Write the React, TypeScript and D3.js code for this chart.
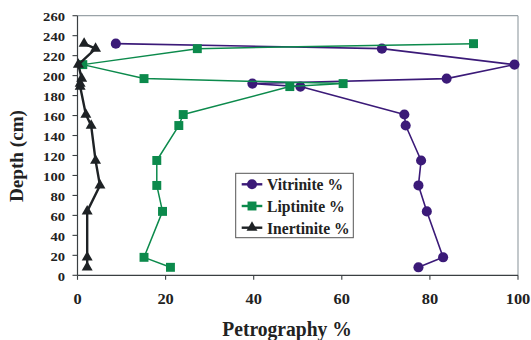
import React from "react";
import * as d3 from "d3";

const depth = [8, 18, 64, 90, 115, 150, 161, 189, 192, 197, 211, 227, 232];
const vitrinite = [77.4, 83, 79.3, 77.4, 78, 74.5, 74.2, 50.6, 39.7, 83.8, 99.2, 69.1, 8.7];
const liptinite = [21.1, 15.1, 19.3, 18.0, 18.0, 23.0, 24.0, 48.2, 60.3, 15.1, 1.2, 27.2, 89.9];
const inertinite = [2.2, 2.2, 2.2, 5.1, 4.1, 3.1, 1.9, 0.6, 0.6, 0.95, 0.2, 4.1, 1.5];
const seriesNames = ["Vitrinite %", "Liptinite %", "Inertinite %"];
const xTicks = [0, 20, 40, 60, 80, 100];
const yTicks = [0, 20, 40, 60, 80, 100, 120, 140, 160, 180, 200, 220, 240, 260];
const xTitle = "Petrography %";
const yTitle = "Depth (cm)";

const W = 531, H = 340;
const x = d3.scaleLinear().domain([0, 100]).range([77.5, 518]);
const y = d3.scaleLinear().domain([0, 260]).range([275.3, 15.7]);

const styles = [
  { color: "#3b1a78", width: 1.6, symbol: d3.symbolCircle, size: 80 },
  { color: "#0c8a4c", width: 1.5, symbol: d3.symbolSquare, size: 80 },
  { color: "#1e2225", width: 2.4, symbol: d3.symbolTriangle, size: 52 },
];
const legendWidths = [76, 77.7, 82.7];

export default function App() {
  const series = [vitrinite, liptinite, inertinite];
  const line = d3.line<[number, number]>().x((d) => x(d[0])).y((d) => y(d[1]));
  const font = "'Liberation Serif', 'Times New Roman', serif";
  return (
    <svg width={W} height={H} style={{ position: "absolute", left: 0, top: 0, background: "#fff" }} fontFamily={font}>
      {/* frame */}
      <line x1={x(0)} x2={x(100)} y1={y(260)} y2={y(260)} stroke="#9aa3a8" strokeWidth={1.2} />
      <line x1={x(100)} x2={x(100)} y1={y(260)} y2={y(0)} stroke="#9aa3a8" strokeWidth={1.2} />
      <line x1={x(0)} x2={x(0)} y1={y(260)} y2={y(0)} stroke="#3a3f42" strokeWidth={1.2} />
      <line x1={x(0)} x2={x(100)} y1={y(0)} y2={y(0)} stroke="#3a3f42" strokeWidth={1.2} />
      {yTicks.map((t) => (
        <g key={"y" + t}>
          <line x1={x(0) - 5} x2={x(0)} y1={y(t)} y2={y(t)} stroke="#3a3f42" strokeWidth={1.1} />
          <text x={65} y={y(t) + 5.6} textAnchor="end" fontSize={13} fontWeight="bold" fill="#222"
            textLength={String(t).length * 7.3} lengthAdjust="spacingAndGlyphs">{t}</text>
        </g>
      ))}
      {xTicks.map((t) => (
        <g key={"x" + t}>
          <line x1={x(t)} x2={x(t)} y1={y(0)} y2={y(0) + 4.5} stroke="#3a3f42" strokeWidth={1.1} />
          <text x={x(t)} y={303.5} textAnchor="middle" fontSize={14} fontWeight="bold" fill="#222"
            textLength={String(t).length * 8.2} lengthAdjust="spacingAndGlyphs">{t}</text>
        </g>
      ))}
      <text x={287} y={335.5} textAnchor="middle" fontSize={20} fontWeight="bold" fill="#222"
        textLength={129.5} lengthAdjust="spacingAndGlyphs">{xTitle}</text>
      <text transform={`translate(23,156) rotate(-90)`} textAnchor="middle" fontSize={18.5} fontWeight="bold" fill="#222"
        textLength={92} lengthAdjust="spacingAndGlyphs">{yTitle}</text>
      {series.map((vals, i) => {
        const pts: [number, number][] = vals.map((v, j) => [v, depth[j]]);
        const sym = d3.symbol().type(styles[i].symbol).size(styles[i].size)();
        return (
          <g key={"s" + i}>
            <path d={line(pts) || ""} fill="none" stroke={styles[i].color} strokeWidth={styles[i].width} strokeLinejoin="round" />
            {pts.map((p, j) => (
              <path key={j} d={sym || ""} transform={`translate(${x(p[0])},${y(p[1])})`} fill={styles[i].color} />
            ))}
          </g>
        );
      })}
      {/* legend */}
      <rect x={235.7} y={173.3} width={117.6} height={64.4} fill="#fff" stroke="#555" strokeWidth={1} />
      {seriesNames.map((name, i) => {
        const ly = 184.3 + i * 21.7;
        const sym = d3.symbol().type(styles[i].symbol).size(styles[i].size)();
        return (
          <g key={"l" + i}>
            <line x1={241.7} x2={262.3} y1={ly} y2={ly} stroke={styles[i].color} strokeWidth={2.4} />
            <path d={sym || ""} transform={`translate(252,${ly})`} fill={styles[i].color} />
            <text x={267} y={ly + 5.8} fontSize={16} fontWeight="bold" fill="#222"
              textLength={legendWidths[i]} lengthAdjust="spacingAndGlyphs">{name}</text>
          </g>
        );
      })}
    </svg>
  );
}
